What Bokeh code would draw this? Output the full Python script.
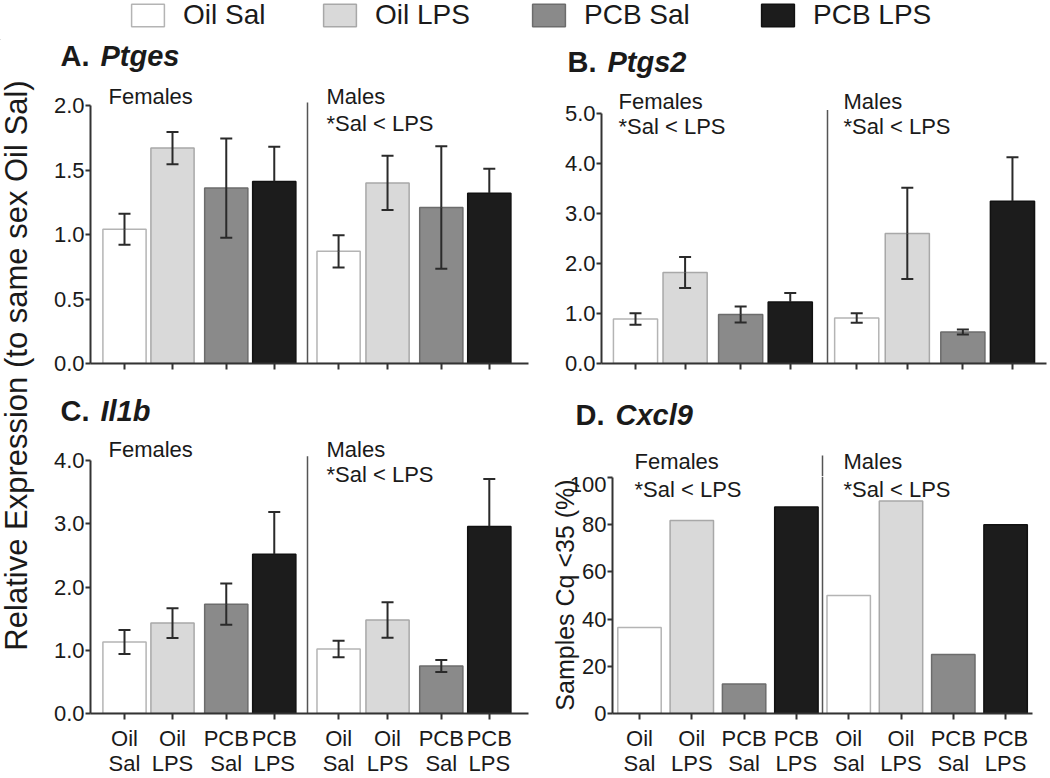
import math
from bokeh.plotting import figure
from bokeh.models import (ColumnDataSource, Whisker, TeeHead, FixedTicker, Label,
                          Legend, LegendItem, Range1d, PrintfTickFormatter,
                          CustomLabelingPolicy)
from bokeh.layouts import row, column
from bokeh.embed import file_html
from bokeh.resources import INLINE

# ---------------- data ----------------
GROUPS = ["Oil Sal", "Oil LPS", "PCB Sal", "PCB LPS"]
TICK_LABELS = ["Oil\nSal", "Oil\nLPS", "PCB\nSal", "PCB\nLPS"]

# order: Females (Oil Sal, Oil LPS, PCB Sal, PCB LPS), Males (same)
PTGES_MEAN = [1.04, 1.67, 1.36, 1.41, 0.87, 1.40, 1.21, 1.32]
PTGES_SEM = [0.12, 0.125, 0.385, 0.27, 0.125, 0.21, 0.475, 0.19]

PTGS2_MEAN = [0.89, 1.82, 0.98, 1.23, 0.91, 2.60, 0.63, 3.24]
PTGS2_SEM = [0.115, 0.31, 0.16, 0.18, 0.095, 0.91, 0.05, 0.88]

IL1B_MEAN = [1.13, 1.43, 1.73, 2.52, 1.02, 1.48, 0.75, 2.96]
IL1B_SEM = [0.19, 0.235, 0.325, 0.67, 0.13, 0.28, 0.095, 0.75]

CXCL9_PCT = [36.4, 81.8, 12.5, 87.5, 50.0, 90.0, 25.0, 80.0]

# ---------------- style / layout ----------------
FONT = "Liberation Sans"
FILL = ["#ffffff", "#d9d9d9", "#8a8a8a", "#1c1c1c"]
LINE = ["#b4b4b4", "#a8a8a8", "#6c6c6c", "#111111"]
ERR = "#2a2a2a"
AX = "#333333"
TXT = "#1a1a1a"
SEP = "#555555"

POS_ABC = [0, 1, 2.12, 3.12, 4.46, 5.48, 6.6, 7.6]
POS_D = [0, 1, 2, 3, 4, 5, 6, 7]

PAGE_W = 1048
PAGE_H = 778
LEG_H = 40
YLAB_W = 48

# panel geometry (page pixels)
SPEC = {
    "A": dict(fig_left=48, fig_top=80, width=492, height=308, fl=90, fr=528, ft=80, fb=363,
              c0=124, unit=48.0, pxu=129.0),
    "B": dict(fig_left=540, fig_top=80, width=508, height=308, fl=601, fr=1046, ft=80, fb=369,
              c0=635, unit=49.6, pxu=51.1),
    "C": dict(fig_left=48, fig_top=432, width=484, height=346, fl=90, fr=528, ft=432, fb=717,
              c0=124, unit=48.0, pxu=64.1),
    "D": dict(fig_left=532, fig_top=476, width=516, height=302, fl=612, fr=1032, ft=476, fb=717,
              c0=639, unit=52.3, pxu=2.4),
}


def to_data(s, xr, yr):
    return (xr - s["c0"]) / s["unit"], (s["fb"] - yr) / s["pxu"]


def add_label(p, x, y, text, size=22, style="normal"):
    p.add_layout(Label(x=x, y=y, text=text, text_font=FONT, text_font_size=f"{size}px",
                       text_font_style=style, text_color=TXT, text_align="left",
                       text_baseline="alphabetic"))


def base_fix(y_page, size):
    # Bokeh places the alphabetic baseline a little low; lift it to the wanted page row
    return y_page - 0.4 * size


def blank_fig(w, h):
    # local pixel coordinates: x from left edge, y from top edge
    f = figure(width=w, height=h, toolbar_location=None, output_backend="svg",
               x_range=Range1d(0, w), y_range=Range1d(h, 0),
               x_axis_type=None, y_axis_type=None, min_border=0)
    f.outline_line_color = None
    f.grid.visible = False
    return f


def title_strip(left, top, bottom, titles):
    t = blank_fig(PAGE_W - left, bottom - top)
    for (letter, gene, lx, gx, base) in titles:
        add_label(t, lx - left, base_fix(base, 29) - top, letter, size=29, style="bold")
        add_label(t, gx - left, base_fix(base, 29) - top, gene, size=29, style="bold italic")
    return t


def make_panel(key, pos, means, sems, bar_w, yticks, fmt, show_xlabels, texts, sep,
               ylabel=None):
    s = SPEC[key]
    mbl = s["fl"] - s["fig_left"]
    mbr = s["fig_left"] + s["width"] - s["fr"]
    mbt = s["ft"] - s["fig_top"]
    mbb = s["fig_top"] + s["height"] - s["fb"]
    fw = s["fr"] - s["fl"]
    fh = s["fb"] - s["ft"]
    x0 = (s["fl"] - s["c0"]) / s["unit"]
    p = figure(width=s["width"], height=s["height"], toolbar_location=None,
               output_backend="svg",
               x_range=Range1d(x0, x0 + fw / s["unit"]),
               y_range=Range1d(0, fh / s["pxu"]),
               min_border_left=mbl, min_border_right=mbr,
               min_border_top=mbt, min_border_bottom=mbb)
    p.outline_line_color = None
    p.xgrid.visible = False
    p.ygrid.visible = False

    for ax in (p.xaxis[0], p.yaxis[0]):
        ax.axis_line_width = 2
        ax.axis_line_color = AX
        ax.major_tick_line_width = 2
        ax.major_tick_line_color = AX
        ax.major_tick_in = 0
        ax.minor_tick_line_color = None
        ax.major_label_text_font = FONT
        ax.major_label_text_font_size = "22px"
        ax.major_label_text_color = TXT
    p.yaxis.major_tick_out = 5
    p.yaxis.major_label_standoff = 1
    p.xaxis.major_tick_out = 6
    p.xaxis.major_label_standoff = 6

    p.yaxis.ticker = FixedTicker(ticks=yticks)
    p.yaxis.formatter = PrintfTickFormatter(format=fmt)
    p.yaxis.bounds = (0, yticks[-1])
    if ylabel:
        ya = p.yaxis[0]
        ya.axis_label = ylabel
        ya.axis_label_text_font = FONT
        ya.axis_label_text_font_size = "25px"
        ya.axis_label_text_font_style = "normal"
        ya.axis_label_text_color = TXT
        ya.axis_label_standoff = -12

    p.xaxis.ticker = FixedTicker(ticks=pos)
    if show_xlabels:
        p.xaxis.major_label_overrides = {pos[i]: TICK_LABELS[i % 4] for i in range(8)}
        p.xaxis.major_label_text_line_height = 1.0
    else:
        # tick marks only, no labels (as in the reference's upper panels)
        p.xaxis.major_label_text_font_size = "8px"
        p.xaxis.major_label_policy = CustomLabelingPolicy(code="return []")

    src = ColumnDataSource(dict(
        x=pos, top=means,
        fill=[FILL[i % 4] for i in range(8)],
        line=[LINE[i % 4] for i in range(8)],
        group=[GROUPS[i % 4] for i in range(8)],
    ))
    p.vbar(x="x", top="top", bottom=0, width=bar_w, fill_color="fill", line_color="line",
           line_width=1.5, source=src)

    if sems is not None:
        # upper half of every error bar
        up = ColumnDataSource(dict(x=pos, lo=means,
                                   hi=[m + e for m, e in zip(means, sems)]))
        wu = Whisker(source=up, base="x", upper="hi", lower="lo",
                     line_color=ERR, line_width=2,
                     upper_head=TeeHead(size=12, line_color=ERR, line_width=2),
                     lower_head=None)
        wu.level = "overlay"
        p.add_layout(wu)
        # lower half: hidden inside the black bars, so only drawn for the lighter bars
        keep = [i for i in range(8) if i % 4 != 3]
        dn = ColumnDataSource(dict(x=[pos[i] for i in keep],
                                   hi=[means[i] for i in keep],
                                   lo=[means[i] - sems[i] for i in keep]))
        wd = Whisker(source=dn, base="x", upper="hi", lower="lo",
                     line_color=ERR, line_width=2, upper_head=None,
                     lower_head=TeeHead(size=12, line_color=ERR, line_width=2))
        wd.level = "overlay"
        p.add_layout(wd)

    # separator between sexes (up to sep[1], or to the frame top if that is lower)
    sx, sy = to_data(s, sep[0], max(sep[1], s["ft"]))
    p.segment(x0=[sx], y0=[0], x1=[sx], y1=[sy], line_color=SEP, line_width=1.5)

    for (tx, ty, t) in texts:
        dx, dy = to_data(s, tx, base_fix(ty, 22))
        add_label(p, dx, dy, t)
    return p


SIG = "*Sal < LPS"

strip_top = title_strip(YLAB_W, 40, 80, [("A.", "Ptges", 60, 100, 67),
                                          ("B.", "Ptgs2", 567, 607, 73)])
strip_bot = title_strip(YLAB_W, 388, 432, [("C.", "Il1b", 60, 100, 422),
                                            ("D.", "Cxcl9", 575, 615, 426)])

pA = make_panel("A", POS_ABC, PTGES_MEAN, PTGES_SEM, 0.9, [0, 0.5, 1.0, 1.5, 2.0], "%.1f",
                False, [(108, 105, "Females"), (326, 105, "Males"), (326, 132, SIG)],
                (307, 102))
pB = make_panel("B", POS_ABC, PTGS2_MEAN, PTGS2_SEM, 0.89, [0, 1, 2, 3, 4, 5], "%.1f",
                False, [(618, 110, "Females"), (618, 136, SIG), (843, 110, "Males"),
                        (843, 136, SIG)],
                (827, 110))
pC = make_panel("C", POS_ABC, IL1B_MEAN, IL1B_SEM, 0.9, [0, 1, 2, 3, 4], "%.1f",
                True, [(108, 458, "Females"), (326, 458, "Males"), (326, 483, SIG)],
                (307, 456))
pD = make_panel("D", POS_D, CXCL9_PCT, None, 0.83, [0, 20, 40, 60, 80, 100], "%d",
                True, [(634, 498, SIG), (843, 498, SIG)],
                (822, 455), ylabel="Samples Cq <35 (%)")

# strip above panel D's plotting area: sex headings and the top of the separator.
# In a column its frame lines up with panel D's frame, so it shares D's x range.
D = SPEC["D"]
STRIP_TOP = 432
stripD = blank_fig(D["width"], D["fig_top"] - STRIP_TOP)
stripD.x_range = pD.x_range
for (tx, t) in [(634, "Females"), (843, "Males")]:
    add_label(stripD, to_data(D, tx, 0)[0], base_fix(470, 22) - STRIP_TOP, t)
sdx = to_data(D, 822, 0)[0]
stripD.segment(x0=[sdx], y0=[455 - STRIP_TOP], x1=[sdx], y1=[D["fig_top"] - STRIP_TOP + 1],
               line_color=SEP, line_width=1.5)

# ---------------- shared y-axis title ----------------
ylab = blank_fig(YLAB_W, PAGE_H - LEG_H)
ylab.add_layout(Label(x=16, y=365 - LEG_H, text="Relative Expression (to same sex Oil Sal)",
                      angle=math.pi / 2, text_font=FONT, text_font_size="31px",
                      text_color=TXT, text_align="center", text_baseline="middle"))

# ---------------- legend ----------------
leg = blank_fig(PAGE_W, LEG_H)
leg.y_range = Range1d(0, LEG_H)
LEG_X = [127, 319, 528, 757]
for i, g in enumerate(GROUPS):
    # one zero-height bar kept outside the visible range; it only feeds the legend swatch
    r = leg.vbar(x=[-100], top=[0], bottom=[0], width=1, fill_color=FILL[i],
                 line_color=LINE[i], line_width=1.5)
    lg = Legend(items=[LegendItem(label=g, renderers=[r])], location=(LEG_X[i], 9),
                orientation="horizontal", glyph_width=41, glyph_height=28, label_standoff=15,
                label_text_font=FONT, label_text_font_size="28px", label_text_color=TXT,
                label_height=22, padding=0, margin=0, border_line_color=None,
                background_fill_alpha=0)
    leg.add_layout(lg)

layout = column(leg, row(ylab, column(strip_top, row(pA, pB), strip_bot,
                                      row(pC, column(stripD, pD)))))

with open("out.html", "w") as f:
    f.write(file_html(layout, INLINE))
